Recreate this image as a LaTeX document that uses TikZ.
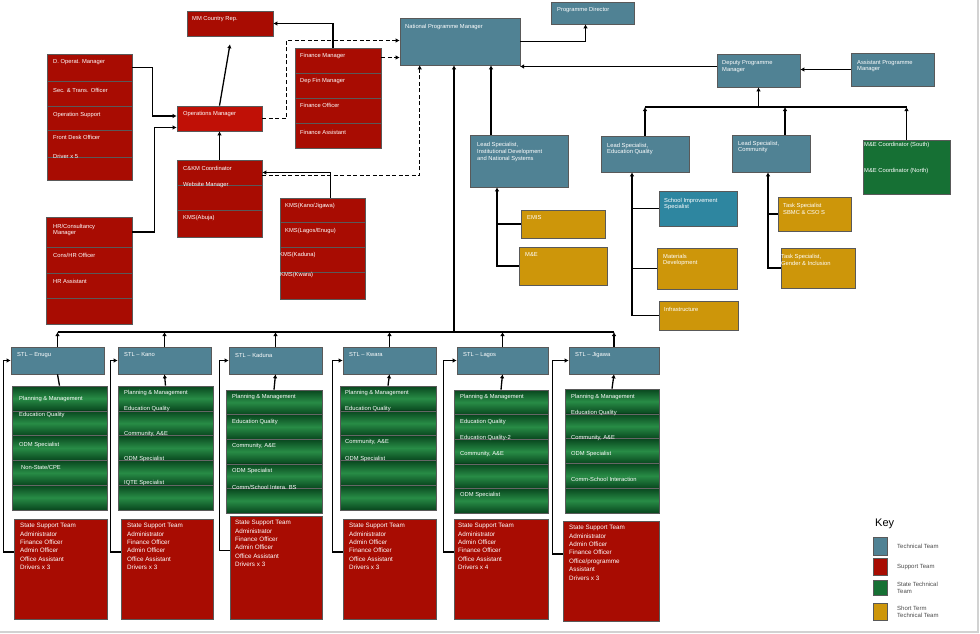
\documentclass[tikz,border=0pt]{standalone}
\usepackage{fontspec}
\setmainfont{Liberation Sans}
\usetikzlibrary{arrows.meta,fit,calc}
\definecolor{tech}{RGB}{80,130,148}
\definecolor{tech2}{RGB}{46,134,160}
\definecolor{supc}{RGB}{168,12,2}
\definecolor{opsc}{RGB}{192,16,6}
\definecolor{stc}{RGB}{22,112,52}
\definecolor{gD}{RGB}{8,70,30}
\definecolor{gL}{RGB}{40,140,70}
\definecolor{stt}{RGB}{205,150,10}
\tikzset{x=1pt,y=-1pt,
 box/.style={draw=black!65,line width=0.6pt,inner sep=0pt},
 tech/.style={box,fill=tech}, techb/.style={box,fill=tech2},
 sup/.style={box,fill=supc}, ops/.style={box,fill=opsc},
 stech/.style={box,fill=stc}, short/.style={box,fill=stt},
 lbl/.style={text=white,font=\fontsize{5.8}{6.8}\selectfont,anchor=west,inner sep=0pt,align=left},
 rl/.style={text=white,font=\fontsize{6.3}{8.4}\selectfont,anchor=north west,inner sep=0pt,align=left},
 arr/.style={line width=1.3pt,-{Latex[length=4pt,width=4.5pt]}},
 ln/.style={line width=1.3pt},
 dsh/.style={arr,dash pattern=on 4pt off 2.5pt}}
\newcommand\Bx[6]{\node[#1,fit={(#3,#4)(#5,#6)}] (#2) {};}
\newcommand\Tx[3]{\node[lbl] at (#1,#2) {#3};}
\newcommand\Gbox[5]{%
 \foreach \i in {0,...,4}{\shade[top color=gD,bottom color=gD,middle color=gL,draw=black!60,line width=0.4pt] ({#2},{#3+\i*(#5-#3)/5}) rectangle ({#4},{#3+(\i+1)*(#5-#3)/5});}
 \node[box,fit={(#2,#3)(#4,#5)}] (#1) {};}
\begin{document}
\begin{tikzpicture}
\useasboundingbox (0,0) rectangle (980,634);
\fill[white] (0,0) rectangle (980,634);
\draw[gray!35,line width=1.5pt] (0,632) -- (978,632) -- (978,0);
% top
\Bx{sup}{mm}{187}{11}{273}{36}\Tx{192}{19}{MM Country Rep.}
\Bx{tech}{npm}{400}{18}{520}{65}\Tx{405}{27}{National Programme Manager}
\Bx{tech}{pd}{551}{2}{634}{24}\Tx{557}{10}{Programme Director}
\Bx{sup}{fin1}{295}{48}{381}{73}\Tx{300}{56}{Finance Manager}
\Bx{sup}{fin2}{295}{73}{381}{98}\Tx{300}{81}{Dep Fin Manager}
\Bx{sup}{fin3}{295}{98}{381}{123}\Tx{300}{105}{Finance Officer}
\Bx{sup}{fin4}{295}{123}{381}{148}\Tx{300}{132}{Finance Assistant}
\Bx{sup}{do1}{47}{54}{132}{81}\Tx{53}{62}{D. Operat. Manager}
\Bx{sup}{do2}{47}{81}{132}{106}\Tx{53}{90}{Sec. \& Trans. Officer}
\Bx{sup}{do3}{47}{106}{132}{130}\Tx{53}{115}{Operation Support}
\Bx{sup}{do4}{47}{130}{132}{157}\Tx{53}{137}{Front Desk Officer}
\Bx{sup}{do5}{47}{157}{132}{180}\Tx{53}{156}{Driver x 5}
\Bx{ops}{ops}{177}{106}{262}{131}\Tx{183}{114}{Operations Manager}
\Bx{sup}{ck1}{177}{160}{262}{185}\Tx{183}{168}{C\&KM Coordinator}
\Bx{sup}{ck2}{177}{185}{262}{210}\Tx{183}{185}{Website Manager}
\Bx{sup}{ck3}{177}{210}{262}{237}\Tx{183}{218}{KMS(Abuja)}
\Bx{sup}{kms1}{280}{198}{365}{222}\Tx{285}{206}{KMS(Kano/Jigawa)}
\Bx{sup}{kms2}{280}{222}{365}{247}\Tx{285}{231}{KMS(Lagos/Enugu)}
\Bx{sup}{kms3}{280}{247}{365}{272}\Tx{279}{255}{KMS(Kaduna)}
\Bx{sup}{kms4}{280}{272}{365}{299}\Tx{280}{275}{KMS(Kwara)}
\Bx{sup}{hr1}{46}{217}{132}{247}\Tx{53}{230}{HR/Consultancy\\Manager}
\Bx{sup}{hr2}{46}{247}{132}{273}\Tx{53}{255}{Cons/HR Officer}
\Bx{sup}{hr3}{46}{273}{132}{298}\Tx{53}{281}{HR Assistant}
\Bx{sup}{hr4}{46}{298}{132}{324}
% right
\Bx{tech}{lsi}{470}{135}{568}{187}\Tx{477}{152}{Lead Specialist,\\Institutional Development\\and National Systems}
\Bx{short}{emis}{521}{210}{605}{238}\Tx{527}{218}{EMIS}
\Bx{short}{me}{519}{247}{607}{285}\Tx{525}{255}{M\&E}
\Bx{tech}{lse}{601}{136}{689}{172}\Tx{607}{149}{Lead Specialist,\\Education Quality}
\Bx{techb}{sis}{659}{191}{737}{226}\Tx{664}{204}{School Improvement\\Specialist}
\Bx{short}{mat}{657}{248}{737}{289}\Tx{663}{260}{Materials\\Development}
\Bx{short}{inf}{659}{301}{738}{330}\Tx{664}{309}{Infrastructure}
\Bx{tech}{dpm}{717}{54}{800}{87}\Tx{722}{67}{Deputy Programme\\Manager}
\Bx{tech}{apm}{851}{53}{934}{86}\Tx{857}{66}{Assistant Programme\\Manager}
\Bx{tech}{lsc}{732}{135}{810}{172}\Tx{738}{147}{Lead Specialist,\\Community}
\Bx{stech}{mec}{863}{140}{950}{194}\Tx{864}{145}{M\&E Coordinator (South)}\Tx{864}{171}{M\&E Coordinator (North)}
\Bx{short}{ts1}{778}{197}{851}{231}\Tx{783}{209}{Task Specialist\\SBMC \& CSO S}
\Bx{short}{ts2}{781}{248}{855}{288}\Tx{781}{260}{Task Specialist,\\Gender \& Inclusion}
% right connectors
\draw[arr] (npm.east) -| ([xshift=-7pt]pd.south);
\draw[arr] ([yshift=4pt]dpm.west) -- (520,66.5);
\draw[arr] (apm.west) -- (dpm.east |- apm.west);
\coordinate (bus) at (700,107);
\draw[ln] (lse.north |- bus) -- (mec.north |- bus);
\draw[arr] (lse.north) -- (lse.north |- bus);
\draw[arr] ([xshift=14pt]lsc.north) -- ([xshift=14pt]lsc.north |- bus);
\draw[arr] (mec.north) -- (mec.north |- bus);
\draw[arr] (dpm.south |- bus) -- (dpm.south);
\draw[arr] ([xshift=-28pt]lsi.north) -- ([xshift=-28pt]lsi.north |- npm.south);
\coordinate (mv) at (454,332);
\draw[arr] (mv) -- (mv |- npm.south);
\coordinate (lsiB) at ([xshift=-22pt]lsi.south);
\draw[ln] (emis.west) -- (emis.west -| lsiB);
\draw[arr] (me.west) -| (lsiB);
\coordinate (lseB) at ([xshift=-13pt]lse.south);
\draw[ln] (sis.west) -- (sis.west -| lseB);
\draw[ln] (mat.west) -- (mat.west -| lseB);
\draw[arr] (inf.west) -| (lseB);
\coordinate (lscB) at ([xshift=-3pt]lsc.south);
\draw[ln] (ts1.west) -- (ts1.west -| lscB);
\draw[arr] (ts2.west) -| (lscB);
% left connectors
\draw[arr] ([xshift=-5pt]fin1.north) |- (mm.east);
\draw[arr] (ops.north) -- ([yshift=-8pt]mm.south);
\draw[arr] (ck1.north) -- (ops.south);
\draw[arr] ([xshift=8pt]kms1.north) |- (ck1.east);
\draw[arr] (do1.east) -- ++(20,0) |- ([yshift=2.5pt]ops.west);
\draw[arr] (hr1.east) -- ++(22,0) |- ([yshift=-9pt]ops.west);
\draw[dsh] (ops.east) -- ++(24,0) |- ([yshift=1pt]npm.west);
\coordinate (npmw) at ([yshift=-16pt]npm.west);
\draw[dsh] (fin1.east |- npmw) -- (npmw);
\draw[dsh] ([yshift=-3pt]ck1.east) -| ([xshift=20pt]npm.south west);
% bottom
\Bx{tech}{s1}{11}{347}{104}{374}\Tx{17}{355}{STL – Enugu}
\Bx{tech}{s2}{118}{347}{211}{374}\Tx{124}{355}{STL – Kano}
\Bx{tech}{s3}{229}{347}{322}{374}\Tx{235}{355}{STL –  Kaduna}
\Bx{tech}{s4}{343}{347}{436}{374}\Tx{349}{355}{STL – Kwara}
\Bx{tech}{s5}{457}{347}{548}{374}\Tx{463}{355}{STL – Lagos}
\Bx{tech}{s6}{569}{347}{659}{374}\Tx{575}{355}{STL – Jigawa}
\Gbox{g1}{12}{386}{107}{510}
\Tx{19}{399}{Planning \& Management}\Tx{19}{415}{Education Quality}\Tx{19}{445}{ODM Specialist}\Tx{21}{467}{Non-State/CPE}
\Gbox{g2}{118}{386}{213}{510}
\Tx{124}{393}{Planning \& Management}\Tx{124}{409}{Education Quality}\Tx{124}{434}{Community, A\&E}\Tx{124}{459}{ODM Specialist}\Tx{124}{483}{IQTE Specialist}
\Gbox{g3}{226}{390}{322}{513}
\Tx{232}{397}{Planning \& Management}\Tx{232}{422}{Education Quality}\Tx{232}{446}{Community, A\&E}\Tx{232}{471}{ODM Specialist}\Tx{232}{487}{Comm/School Intera. BS}
\Gbox{g4}{340}{386}{436}{510}
\Tx{345}{393}{Planning \& Management}\Tx{345}{409}{Education Quality}\Tx{345}{442}{Community, A\&E}\Tx{345}{459}{ODM Specialist}
\Gbox{g5}{454}{390}{548}{513}
\Tx{460}{397}{Planning \& Management}\Tx{460}{422}{Education Quality}\Tx{460}{438}{Education Quality-2}\Tx{460}{454}{Community, A\&E}\Tx{460}{495}{ODM Specialist}
\Gbox{g6}{565}{389}{659}{513}
\Tx{571}{397}{Planning \& Management}\Tx{571}{413}{Education Quality}\Tx{571}{438}{Community, A\&E}\Tx{571}{454}{ODM Specialist}\Tx{571}{479}{Comm-School Interaction}
\Bx{sup}{r1}{14}{519}{107}{619}\node[rl] at (20,523) {State Support Team\\Administrator\\Finance Officer\\Admin Officer\\Office Assistant\\Drivers x 3};
\Bx{sup}{r2}{121}{519}{213}{619}\node[rl] at (127,523) {State Support Team\\Administrator\\Finance Officer\\Admin Officer\\Office Assistant\\Drivers x 3};
\Bx{sup}{r3}{230}{516}{322}{619}\node[rl] at (235,520) {State Support Team\\Administrator\\Finance  Officer\\Admin Officer\\Office Assistant\\Drivers x 3};
\Bx{sup}{r4}{343}{519}{436}{619}\node[rl] at (349,523) {State Support Team\\Administrator\\Admin Officer\\Finance Officer\\Office Assistant\\Drivers x 3};
\Bx{sup}{r5}{454}{519}{548}{619}\node[rl] at (458,523) {State Support Team\\Administrator\\Admin Officer\\Finance Officer\\Office Assistant\\Drivers x 4};
\Bx{sup}{r6}{563}{521}{659}{621}\node[rl] at (569,525) {State Support Team\\Administrator\\Admin Officer\\Finance Officer\\Office/programme\\Assistant\\Drivers x 3};
\coordinate (bb) at (300,332);
\draw[ln] (s1.north |- bb) -- (s6.north |- bb);
\foreach \k in {1,...,6}{
 \draw[arr] (s\k.north) -- (s\k.north |- bb);
 \draw[arr] ([yshift=17pt]r\k.west) -- ++(-10,0) |- (s\k.west);}
\draw[ln] (g1.north) -- (s1.south);
\foreach \k in {2,...,6}{\draw[arr] (g\k.north) -- (s\k.south);}
% key
\node[anchor=west,inner sep=0pt,font=\fontsize{11}{12}\selectfont] (key) at (875,524) {Key};
\Bx{tech}{k1}{873}{537}{887}{555}\node[anchor=west,inner sep=0pt,font=\fontsize{6}{7}\selectfont,text=black!70,align=left] at (897,546) {Technical Team};
\Bx{sup}{k2}{873}{558}{887}{575}\node[anchor=west,inner sep=0pt,font=\fontsize{6}{7}\selectfont,text=black!70,align=left] at (897,567) {Support Team};
\Bx{stech}{k3}{873}{580}{887}{595}\node[anchor=west,inner sep=0pt,font=\fontsize{6}{7}\selectfont,text=black!70,align=left] at (897,588) {State Technical\\Team};
\Bx{short}{k4}{873}{603}{887}{620}\node[anchor=west,inner sep=0pt,font=\fontsize{6}{7}\selectfont,text=black!70,align=left] at (897,612) {Short Term\\Technical Team};
\end{tikzpicture}
\end{document}
